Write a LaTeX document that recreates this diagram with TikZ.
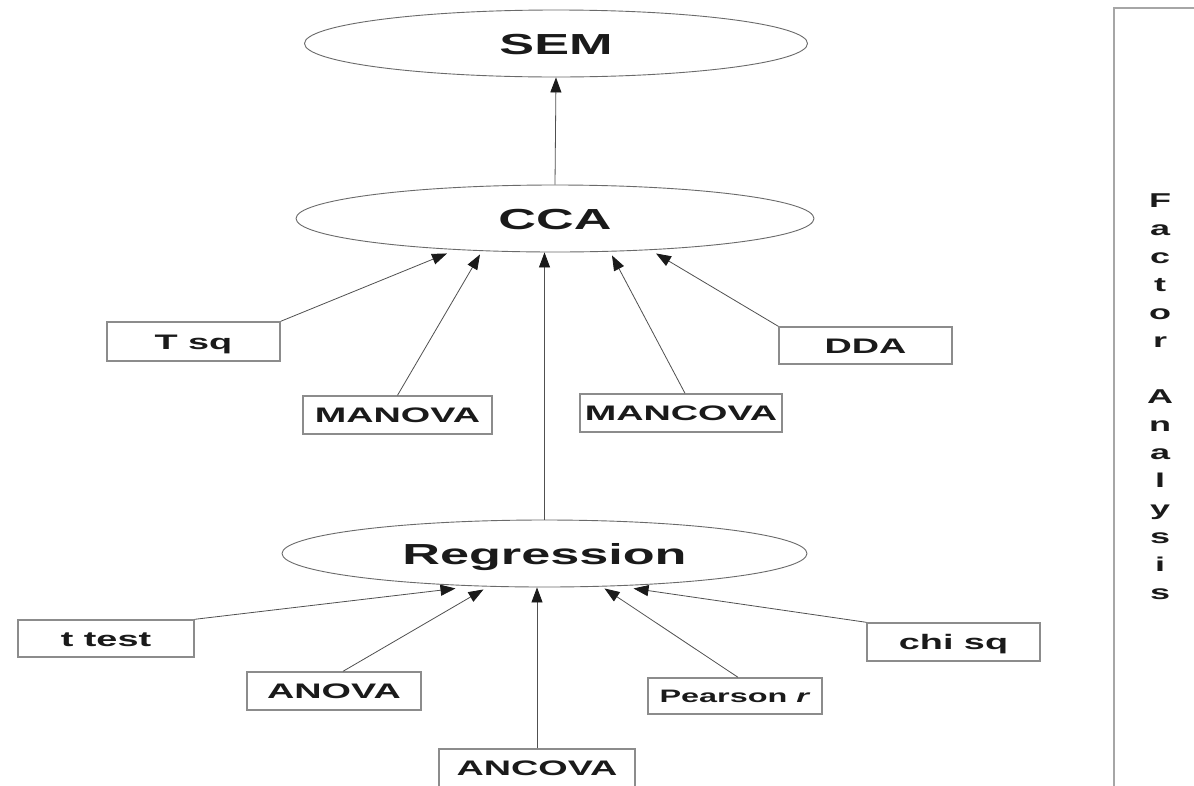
\documentclass[tikz,border=0pt]{standalone}
\usepackage{fontspec}
\newfontfamily\wf{Liberation Sans}[FakeStretch=1.8]
\usetikzlibrary{shapes.geometric,arrows.meta}
\definecolor{boxgray}{HTML}{8C8C8C}
\definecolor{linegray}{HTML}{505050}
\definecolor{ellgray}{HTML}{6A6A6A}
\definecolor{txt}{HTML}{1A1A1A}
\definecolor{fagray}{HTML}{A6A6A6}
\begin{document}
\begin{tikzpicture}[x=1pt,y=-1pt,
  ell/.style={ellipse, draw=ellgray, line width=0.9pt, inner sep=0pt, text=txt,
    font=\wf\bfseries\fontsize{29}{33}\selectfont, text height=21pt, text depth=0pt},
  lbl/.style={rectangle, draw=boxgray, line width=1.4pt, inner sep=0pt, text=txt,
    font=\wf\bfseries\fontsize{21}{25}\selectfont, text height=15pt, text depth=0pt},
  arr/.style={draw=linegray, line width=0.8pt, -{Triangle[length=15pt,width=11pt,color=txt]}},
  faletter/.style={anchor=base, inner sep=0pt, text=txt, font=\wf\bfseries\fontsize{20}{24}\selectfont}
]
\useasboundingbox (0,0) rectangle (1194,785);
\fill[white] (0,0) rectangle (1194,785);
\clip (0,0) rectangle (1194,785);

% ellipses
\node[ell, minimum width=503pt, minimum height=67pt] (sem) at (556,43.5) {SEM};
\node[ell, minimum width=518pt, minimum height=67pt] (cca) at (555,218.5) {CCA};
\node[ell, minimum width=525pt, minimum height=67pt] (reg) at (544.5,553.5) {Regression};

% CCA inputs
\node[lbl, minimum width=173pt, minimum height=39pt] (tsq) at (193.5,341.5) {T sq};
\node[lbl, minimum width=189pt, minimum height=38pt] (manova) at (397.5,415) {MANOVA};
\node[lbl, minimum width=202pt, minimum height=38pt] (mancova) at (681,413) {MANCOVA};
\node[lbl, minimum width=173pt, minimum height=37pt] (dda) at (865.5,345.5) {DDA};

% Regression inputs
\node[lbl, minimum width=176pt, minimum height=37pt] (ttest) at (106,638.5) {t test};
\node[lbl, minimum width=174pt, minimum height=38pt] (anova) at (334,691) {ANOVA};
\node[lbl, minimum width=196pt, minimum height=38pt] (ancova) at (537,768) {ANCOVA};
\node[lbl, minimum width=174pt, minimum height=36pt,
      font=\wf\bfseries\fontsize{18}{22}\selectfont, text height=13pt] (pearson) at (735,696) {Pearson \textit{r}};
\node[lbl, minimum width=173pt, minimum height=38pt] (chisq) at (953.5,642) {chi sq};

% connectors
\draw[arr] (cca.north) -- (sem.south);
\draw[arr] (tsq.north east) -- ([xshift=-108pt,yshift=-1pt]cca.south);
\draw[arr] (manova.north) -- ([xshift=-75pt,yshift=-2pt]cca.south);
\draw[arr] (reg.north) -- (reg.north |- cca.south);
\draw[arr] ([xshift=4pt]mancova.north) -- ([xshift=57pt,yshift=-3pt]cca.south);
\draw[arr] (dda.north west) -- ([xshift=101pt,yshift=-1pt]cca.south);

\draw[arr] (ttest.north east) -- ([xshift=-89pt,yshift=-1pt]reg.south);
\draw[arr] ([xshift=9pt]anova.north) -- ([xshift=-61pt,yshift=-2pt]reg.south);
\draw[arr] (ancova.north) -- (ancova.north |- reg.south);
\draw[arr] ([xshift=3pt]pearson.north) -- ([xshift=60pt,yshift=-1pt]reg.south);
\draw[arr] (chisq.north west) -- ([xshift=89pt,yshift=-1pt]reg.south);

% Factor Analysis panel
\draw[fagray, line width=2.2pt] (1114,800) -- (1114,8) -- (1200,8);
\foreach \l [count=\i] in {F,a,c,t,o,r}
  \node[faletter] (fa\i) at (1160,179+28*\i) {\l};
\foreach \l [count=\i from 8] in {A,n,a,l,y,s,i,s}
  \node[faletter] (fb\i) at (1160,179+28*\i) {\l};
\end{tikzpicture}
\end{document}
